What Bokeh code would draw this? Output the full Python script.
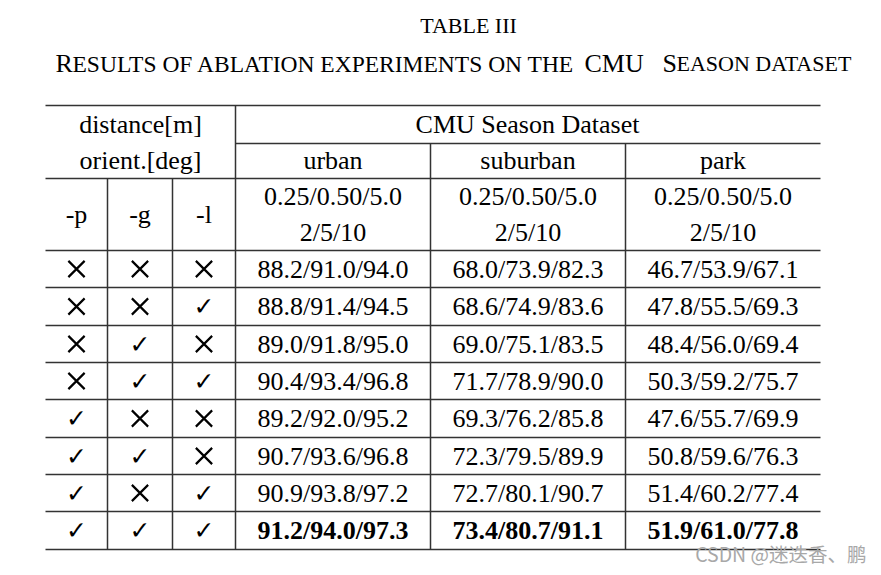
from bokeh.plotting import figure
from bokeh.models import Range1d
from bokeh.core.properties import value
from bokeh.embed import file_html
from bokeh.resources import INLINE

# ---- data ----
title = "TABLE III"
dataset_name = "CMU Season Dataset"
group_header = ["distance[m]", "orient.[deg]"]
categories = ["urban", "suburban", "park"]
thresholds = ["0.25/0.50/5.0", "2/5/10"]
flag_names = ["-p", "-g", "-l"]
p_flags = [0, 0, 0, 0, 1, 1, 1, 1]
g_flags = [0, 0, 1, 1, 0, 1, 0, 1]
l_flags = [0, 1, 0, 1, 0, 0, 1, 1]
urban = ["88.2/91.0/94.0", "88.8/91.4/94.5", "89.0/91.8/95.0", "90.4/93.4/96.8",
         "89.2/92.0/95.2", "90.7/93.6/96.8", "90.9/93.8/97.2", "91.2/94.0/97.3"]
suburban = ["68.0/73.9/82.3", "68.6/74.9/83.6", "69.0/75.1/83.5", "71.7/78.9/90.0",
            "69.3/76.2/85.8", "72.3/79.5/89.9", "72.7/80.1/90.7", "73.4/80.7/91.1"]
park = ["46.7/53.9/67.1", "47.8/55.5/69.3", "48.4/56.0/69.4", "50.3/59.2/75.7",
        "47.6/55.7/69.9", "50.8/59.6/76.3", "51.4/60.2/77.4", "51.9/61.0/77.8"]
best_row = 7
watermark = "CSDN @迷迭香、鹏"

# ---- layout (screen pixels) ----
W, H = 873, 567
def X(v): return v
def Y(v): return v

p = figure(width=W, height=H, output_backend="svg", toolbar_location=None,
           x_range=Range1d(0, W), y_range=Range1d(H, 0), min_border=0)
p.axis.visible = False
p.grid.visible = False
p.outline_line_color = None
p.background_fill_color = "white"

SERIF = value("Liberation Serif")
LC = "#333333"
LW = 1.5

x_left, x_right = 45, 820
x_cols = [45, 107, 172, 235, 430, 625, 820]
y_top, y_cmu, y_head = 105, 143, 178
row_lines = [250, 287, 325, 362, 399, 437, 474, 511, 549]

# horizontal rules
hx0, hx1, hy = [], [], []
for yy in [y_top, y_head] + row_lines:
    hx0.append(X(x_left)); hx1.append(X(x_right)); hy.append(Y(yy))
hx0.append(X(235)); hx1.append(X(x_right)); hy.append(Y(y_cmu))
p.segment(x0=hx0, x1=hx1, y0=hy, y1=hy, line_color=LC, line_width=LW)

# vertical rules
vx, vy0, vy1 = [], [], []
vx.append(X(235)); vy0.append(Y(y_top)); vy1.append(Y(row_lines[-1]))
for xx in [430, 625]:
    vx.append(X(xx)); vy0.append(Y(y_cmu)); vy1.append(Y(row_lines[-1]))
for xx in [107, 172]:
    vx.append(X(xx)); vy0.append(Y(y_head)); vy1.append(Y(row_lines[-1]))
p.segment(x0=vx, x1=vx, y0=vy0, y1=vy1, line_color=LC, line_width=LW)

def txt(xs, ys, texts, size="26px", font=SERIF, style="normal", align="center",
        baseline="middle", color="black"):
    p.text(x=[X(v) for v in xs], y=[Y(v) for v in ys], text=texts,
           text_font=font, text_font_size=size, text_font_style=style,
           text_align=align, text_baseline=baseline, text_color=color)

# title
txt([468], [25], [title], size="22px", baseline="alphabetic")
# subtitle in small caps
txt([55], [63], ["R"], size="26px", align="left", baseline="alphabetic")
txt([72], [63], ["ESULTS OF ABLATION EXPERIMENTS ON THE"], size="23.5px", align="left", baseline="alphabetic")
txt([584], [63], ["CMU"], size="26px", align="left", baseline="alphabetic")
txt([662], [63], ["S"], size="26px", align="left", baseline="alphabetic")
txt([676], [63], ["EASON DATASET"], size="22px", align="left", baseline="alphabetic")

# header
txt([140, 140], [124, 160], group_header)
txt([527], [124], [dataset_name])
col_centers = [(x_cols[i] + x_cols[i + 1]) / 2 for i in range(3, 6)]
txt(col_centers, [160] * 3, categories)
flag_centers = [(x_cols[i] + x_cols[i + 1]) / 2 for i in range(3)]
txt(flag_centers, [214] * 3, flag_names)
txt(col_centers, [196] * 3, [thresholds[0]] * 3)
txt(col_centers, [232] * 3, [thresholds[1]] * 3)

# body
row_centers = [(row_lines[i] + row_lines[i + 1]) / 2 for i in range(8)]
for fi, flags in enumerate([p_flags, g_flags, l_flags]):
    no = [i for i in range(8) if flags[i] == 0]
    yes = [i for i in range(8) if flags[i] == 1]
    p.scatter(x=[X(flag_centers[fi])] * len(no), y=[Y(row_centers[i]) for i in no],
              marker="x", size=23, line_color="black", line_width=2.2)
    txt([flag_centers[fi]] * len(yes), [row_centers[i] for i in yes],
        ["✓"] * len(yes), size="25px", font=value("DejaVu Sans"))
for ci, col in enumerate([urban, suburban, park]):
    n = [i for i in range(8) if i != best_row]
    txt([col_centers[ci]] * len(n), [row_centers[i] for i in n], [col[i] for i in n])
    txt([col_centers[ci]], [row_centers[best_row]], [col[best_row]], style="bold")

# watermark
txt([866], [553], [watermark], size="19.5px", font=value("Noto Sans CJK SC"),
    align="right", color="#a8a8a8")

open("out.html", "w").write(file_html(p, INLINE))
